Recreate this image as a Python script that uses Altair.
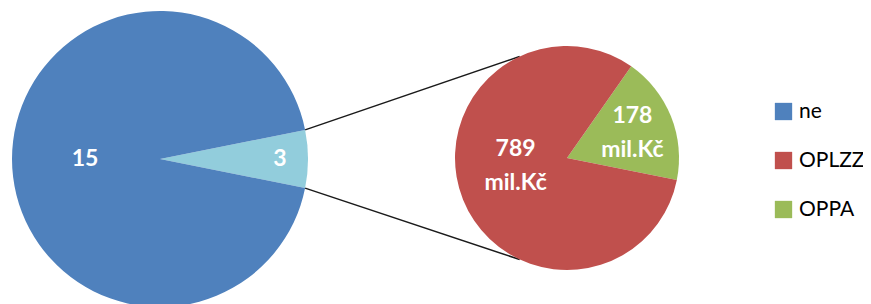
import math
import altair as alt
import pandas as pd

# ---- data ----
left_cats = ["other", "ne"]            # "other" = OPLZZ + OPPA (exploded into the right pie)
left_labels = ["3", "15"]
left_share = [0.063, 0.937]            # slice sizes as drawn in the left pie
right_cats = ["OPPA", "OPLZZ"]
right_values = [178, 789]
right_labels = ["178\nmil.Kč", "789\nmil.Kč"]
legend_cats = ["ne", "OPLZZ", "OPPA"]

# ---- style / layout ----
colors = {"ne": "#4F81BD", "other": "#92CDDC", "OPLZZ": "#C0504D", "OPPA": "#9BBB59"}
FONT = "Lato"
W, H = 855, 300
LC = (152, 151); LR = 148          # left pie centre / radius
RC = (559, 150); RR = 112          # right pie centre / radius
label_radius = {"ne": 75, "other": 120, "OPLZZ": 52, "OPPA": 70}
label_shift_deg = {"ne": 0, "other": 0, "OPLZZ": 13, "OPPA": 1}
LINE_H = 34

left_frac = left_share[0] / sum(left_share)
left_start = math.pi / 2 - left_frac * math.pi
right_start = math.radians(35)


def frame(cats, vals, labels, start):
    df = pd.DataFrame({"cat": cats, "val": vals, "label": labels,
                       "ord": range(len(cats))})
    total = df["val"].sum()
    cum = df["val"].cumsum()
    mid = start + 2 * math.pi * (cum - df["val"] / 2) / total
    df["mid"] = mid + df["cat"].map(label_shift_deg).map(math.radians)
    df["r"] = df["cat"].map(label_radius)
    return df


left_df = frame(left_cats, left_share, left_labels, left_start)
right_df = frame(right_cats, right_values, right_labels, right_start)

color_scale = alt.Scale(domain=list(colors.keys()), range=list(colors.values()))
legend = alt.Legend(orient="none", legendX=765, legendY=93, title=None, values=legend_cats,
                    symbolType="square", symbolSize=300, symbolStrokeWidth=0,
                    labelFontSize=21, labelFont=FONT, labelColor="#000000",
                    labelOffset=5, rowPadding=27, padding=0, labelLimit=200)


def pie(df, centre, radius, start, with_legend, dy):
    base = alt.Chart(df)
    arc = base.mark_arc(outerRadius=radius, strokeWidth=0).encode(
        x=alt.value(centre[0]), y=alt.value(centre[1]),
        theta=alt.Theta("val:Q", stack=True,
                        scale=alt.Scale(range=[start, start + 2 * math.pi])),
        color=alt.Color("cat:N", scale=color_scale,
                        legend=legend if with_legend else None),
        order=alt.Order("ord:Q"),
    )
    txt = base.mark_text(color="white", font=FONT, fontWeight="bold", fontSize=23,
                         lineBreak="\n", lineHeight=LINE_H, align="center",
                         baseline="middle", dy=dy).encode(
        x=alt.value(centre[0]), y=alt.value(centre[1]),
        theta=alt.Theta("mid:Q", scale=None),
        radius=alt.Radius("r:Q", scale=None),
        text="label:N",
    )
    return alt.layer(arc, txt)


# connector lines derived from the pie geometry
def pt(c, r, a):
    return c[0] + r * math.sin(a), c[1] - r * math.cos(a)

a1 = left_start
a2 = left_start + left_frac * 2 * math.pi
p1 = pt(LC, LR, a1); p2 = pt(LC, LR, a2)
q1 = pt(RC, RR, math.radians(-25)); q2 = pt(RC, RR, math.radians(205))
lines_df = pd.DataFrame({"x": [p1[0], p2[0]], "y": [p1[1], p2[1]],
                         "x2": [q1[0], q2[0]], "y2": [q1[1], q2[1]]})
lines = alt.Chart(lines_df).mark_rule(color="#1a1a1a", strokeWidth=1.5).encode(
    x=alt.X("x:Q", scale=None), y=alt.Y("y:Q", scale=None),
    x2="x2:Q", y2="y2:Q",
)

chart = alt.layer(
    lines,
    pie(left_df, LC, LR, left_start, True, 0),
    pie(right_df, RC, RR, right_start, False, -LINE_H / 2),
).resolve_scale(theta="independent").properties(
    width=W, height=H, autosize=alt.AutoSizeParams(type="none"), padding=0,
    background="white",
).configure_view(stroke=None)

chart.save("out.html", embed_options={"renderer": "svg", "actions": False})
